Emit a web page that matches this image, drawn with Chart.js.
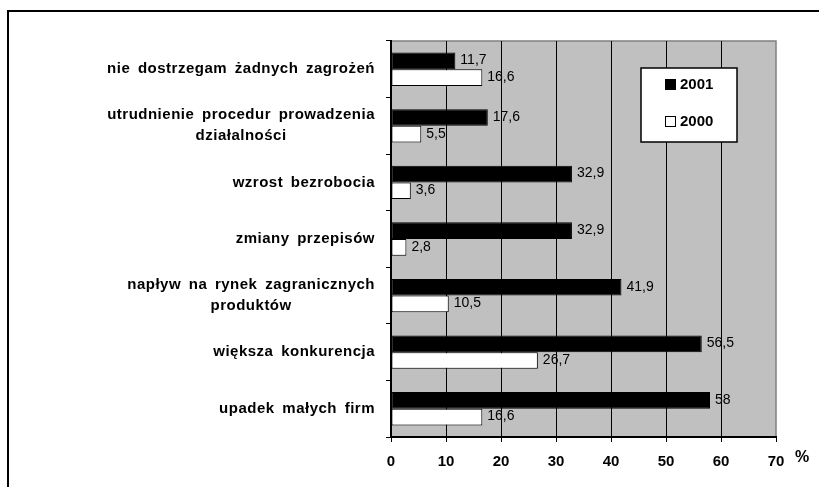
<!DOCTYPE html>
<html>
<head>
<meta charset="utf-8">
<title>Zagrożenia</title>
<script src="https://cdn.jsdelivr.net/npm/chart.js@4.4.1/dist/chart.umd.min.js"></script>
<style>
  html, body { margin: 0; padding: 0; background: #fff; }
  canvas { display: block; }
</style>
</head>
<body>
<canvas id="chart" width="819" height="487"></canvas>
<script>
// data
const categories = [
    ['nie dostrzegam żadnych zagrożeń'],
    ['utrudnienie procedur prowadzenia', 'działalności'],
    ['wzrost bezrobocia'],
    ['zmiany przepisów'],
    ['napływ na rynek zagranicznych', 'produktów'],
    ['większa konkurencja'],
    ['upadek małych firm']
];
const values2001 = [11.7, 17.6, 32.9, 32.9, 41.9, 56.5, 58];
const values2000 = [16.6, 5.5, 3.6, 2.8, 10.5, 26.7, 16.6];
const seriesNames = ['2001', '2000'];
const xMin = 0;
const xMax = 70;
const xStep = 10;
const unitLabel = '%';

const FONT = "'Liberation Sans', Arial, sans-serif";

// grey plot area + outer frame
const backgroundPlugin = {
    id: 'background',
    beforeDraw(chart) {
        const ctx = chart.ctx;
        const a = chart.chartArea;
        ctx.save();
        ctx.fillStyle = '#c0c0c0';
        ctx.fillRect(a.left, a.top, a.right - a.left, a.bottom - a.top);
        ctx.strokeStyle = '#808080';
        ctx.lineWidth = 1.5;
        ctx.beginPath();
        ctx.moveTo(a.left, a.top);
        ctx.lineTo(a.right, a.top);
        ctx.lineTo(a.right, a.bottom);
        ctx.stroke();
        // frame of the whole picture (only top and left visible)
        ctx.strokeStyle = '#000';
        ctx.lineWidth = 2;
        ctx.beginPath();
        ctx.moveTo(8, chart.height + 2);
        ctx.lineTo(8, 11);
        ctx.lineTo(chart.width + 2, 11);
        ctx.stroke();
        ctx.restore();
    }
};

// category labels: block right aligned, lines centred inside the block
const categoryLabelPlugin = {
    id: 'categoryLabels',
    afterDraw(chart) {
        const ctx = chart.ctx;
        const y = chart.scales.y;
        const right = chart.chartArea.left - 16;
        const lineHeight = 21;
        ctx.save();
        ctx.font = 'bold 15px ' + FONT;
        ctx.letterSpacing = '0.5px';
        ctx.wordSpacing = '3px';
        ctx.fillStyle = '#000';
        ctx.textAlign = 'center';
        ctx.textBaseline = 'middle';
        chart.data.labels.forEach((lines, i) => {
            const cy = y.getPixelForValue(i);
            let w = 0;
            lines.forEach(l => { w = Math.max(w, ctx.measureText(l).width); });
            const cx = right - w / 2;
            const y0 = cy - (lines.length - 1) * lineHeight / 2;
            lines.forEach((l, k) => ctx.fillText(l, cx, y0 + k * lineHeight));
        });
        ctx.restore();
    }
};

// values next to the bars, decimal comma
const valueLabelPlugin = {
    id: 'valueLabels',
    afterDatasetsDraw(chart) {
        const ctx = chart.ctx;
        ctx.save();
        ctx.font = '14px ' + FONT;
        ctx.fillStyle = '#000';
        ctx.textAlign = 'left';
        ctx.textBaseline = 'middle';
        chart.data.datasets.forEach((ds, di) => {
            const meta = chart.getDatasetMeta(di);
            meta.data.forEach((bar, i) => {
                const txt = String(ds.data[i]).replace('.', ',');
                ctx.fillText(txt, bar.x + 5, bar.y - 0.5);
            });
        });
        // unit next to the last tick
        ctx.font = 'bold 16px ' + FONT;
        ctx.fillText(unitLabel, chart.chartArea.right + 19, chart.chartArea.bottom + 21);
        ctx.restore();
    }
};

// legend box inside the plot
const boxLegendPlugin = {
    id: 'boxLegend',
    afterDraw(chart) {
        const ctx = chart.ctx;
        const a = chart.chartArea;
        const bx = a.right - 135, by = a.top + 27, bw = 96, bh = 74;
        ctx.save();
        ctx.fillStyle = '#fff';
        ctx.fillRect(bx, by, bw, bh);
        ctx.strokeStyle = '#000';
        ctx.lineWidth = 1.5;
        ctx.strokeRect(bx, by, bw, bh);
        ctx.font = 'bold 15px ' + FONT;
        ctx.textBaseline = 'middle';
        ctx.textAlign = 'left';
        chart.data.datasets.forEach((ds, i) => {
            const cy = by + 17 + i * 37;
            ctx.fillStyle = ds.backgroundColor;
            ctx.fillRect(bx + 24, cy - 6, 11, 11);
            ctx.lineWidth = 1;
            ctx.strokeStyle = '#000';
            ctx.strokeRect(bx + 24.5, cy - 5.5, 10, 10);
            ctx.fillStyle = '#000';
            ctx.fillText(ds.label, bx + 39, cy);
        });
        ctx.restore();
    }
};

new Chart(document.getElementById('chart'), {
    type: 'bar',
    data: {
        labels: categories,
        datasets: [
            {
                label: seriesNames[0],
                data: values2001,
                backgroundColor: '#000000',
                borderColor: '#000000',
                borderWidth: 1,
                borderSkipped: false
            },
            {
                label: seriesNames[1],
                data: values2000,
                backgroundColor: '#ffffff',
                borderColor: '#000000',
                borderWidth: 1,
                borderSkipped: false
            }
        ]
    },
    options: {
        indexAxis: 'y',
        responsive: false,
        animation: false,
        devicePixelRatio: 1,
        categoryPercentage: 0.59,
        barPercentage: 1,
        layout: { padding: { top: 41, right: 43, left: 0, bottom: 0 } },
        plugins: {
            legend: { display: false },
            tooltip: { enabled: false }
        },
        scales: {
            x: {
                min: xMin,
                max: xMax,
                ticks: {
                    stepSize: xStep,
                    color: '#000',
                    padding: 11,
                    font: { family: FONT, size: 15, weight: 'bold' }
                },
                grid: {
                    color: c => (c.tick && c.tick.value === xMax) ? 'rgba(0,0,0,0)' : '#000',
                    tickColor: '#000',
                    lineWidth: 1,
                    tickLength: 5
                },
                border: { color: '#000', width: 2 },
                afterFit(scale) { scale.height = 50; }
            },
            y: {
                ticks: { display: false },
                grid: {
                    drawOnChartArea: false,
                    color: '#000',
                    tickLength: 5,
                    offset: true
                },
                border: { color: '#000', width: 2 },
                afterFit(scale) { scale.width = 391; }
            }
        }
    },
    plugins: [backgroundPlugin, categoryLabelPlugin, valueLabelPlugin, boxLegendPlugin]
});
</script>
</body>
</html>
